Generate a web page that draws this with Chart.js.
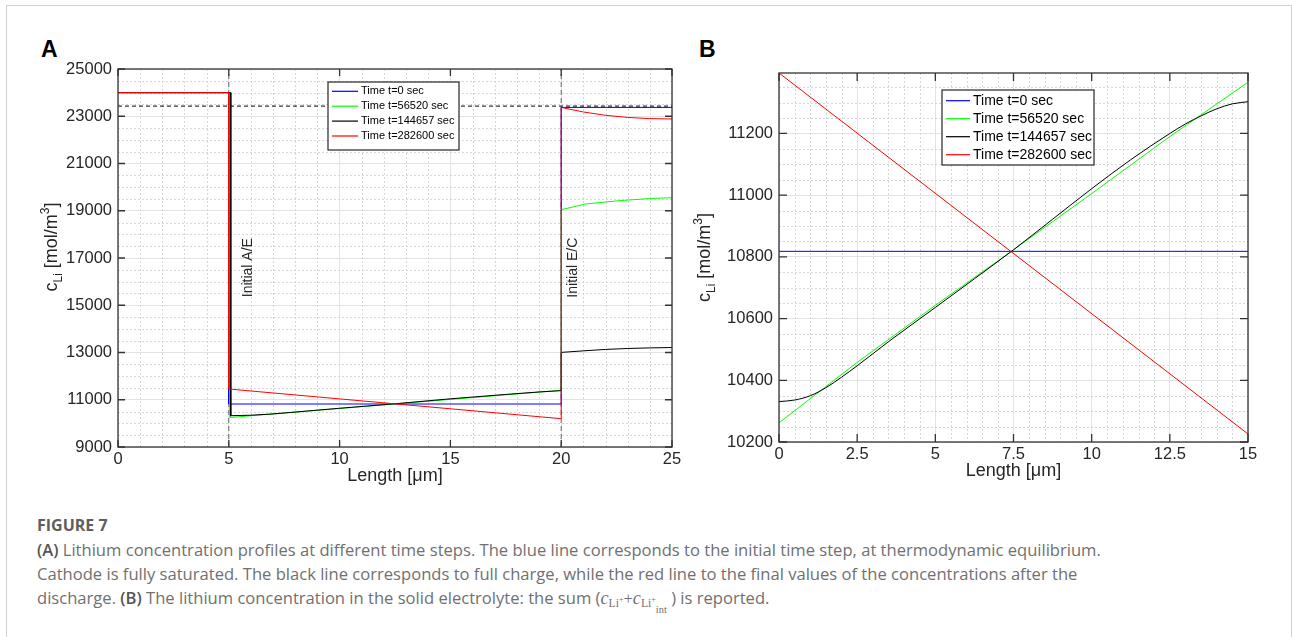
<!DOCTYPE html>
<html><head><meta charset="utf-8">
<script src="https://cdn.jsdelivr.net/npm/chart.js@4.4.1/dist/chart.umd.min.js"></script>
<style>
html,body{margin:0;padding:0;background:#fff;}
body{width:1292px;height:637px;position:relative;overflow:hidden;}
#frame{position:absolute;left:6px;top:5px;width:1284px;height:700px;border:1px solid #d0d0d0;}
.panel{position:absolute;font-family:"Liberation Sans",Arial,sans-serif;font-weight:bold;font-size:23px;color:#000;line-height:1;}
canvas{position:absolute;top:0;}
#cA{left:0;}
#cB{left:690px;}
#cap{position:absolute;left:37px;top:512px;font-family:"Open Sans",Lato,sans-serif;color:#707070;font-size:16px;}
#cap .ln{white-space:nowrap;height:24px;line-height:24px;}
#cap .fig{font-weight:bold;color:#5e5e5e;font-size:16px;height:26px;line-height:26px;}
#cap b{color:#555;font-weight:600;}
.m{font-family:"Liberation Serif","DejaVu Serif",serif;}
.m i{font-family:"Liberation Serif",serif;font-size:1.1em;}
.m sub{font-size:0.7em;vertical-align:-3px;}
.m sup{font-size:0.7em;vertical-align:5px;}
.m sub sub{font-size:0.9em;vertical-align:-6px;}
</style>
</head>
<body>
<div id="frame"></div>
<div class="panel" style="left:41px;top:38px;">A</div>
<div class="panel" style="left:699px;top:38px;">B</div>
<canvas id="cA" width="690" height="500"></canvas>
<canvas id="cB" width="602" height="500"></canvas>
<div id="cap">
<div class="ln fig">FIGURE 7</div>
<div class="ln" id="line1"><b>(A)</b> Lithium concentration profiles at different time steps. The blue line corresponds to the initial time step, at thermodynamic equilibrium.</div>
<div class="ln">Cathode is fully saturated. The black line corresponds to full charge, while the red line to the final values of the concentrations after the</div>
<div class="ln">discharge. <b>(B)</b> The lithium concentration in the solid electrolyte: the sum (<span class="m"><i>c</i><sub>Li<sup>+</sup></sub>+<i>c</i><sub>Li<sup>+</sup><sub>int</sub></sub></span> ) is reported.</div>
</div>
<script>
// ---------- data ----------
const seriesLabels = ['Time t=0 sec', 'Time t=56520 sec', 'Time t=144657 sec', 'Time t=282600 sec'];

// Panel A: position across the cell [um] vs concentration [mol/m^3]
const aBlueX  = [0, 5, 5, 20, 20, 25];
const aBlueY  = [24000, 24000, 10820, 10820, 23375, 23375];
const aGreenX = [0, 5.06, 5.06, 20, 20, 21.1, 22.6, 24.1, 25];
const aGreenY = [24000, 24000, 10250, 11400, 19044, 19286, 19425, 19523, 19552];
const aBlackX = [0, 5.09, 5.09, 6, 7, 8.5, 10, 12.5, 15, 17.5, 19, 20, 20, 21, 22, 23, 24, 25];
const aBlackY = [24000, 24000, 10325, 10345, 10400, 10520, 10640, 10830, 11040, 11225, 11330, 11385, 13004, 13070, 13130, 13170, 13195, 13210];
const aRedX   = [0, 5, 5, 20, 20, 21, 22, 23, 24, 25];
const aRedY   = [24000, 24000, 11455, 10198, 23375, 23180, 23040, 22950, 22900, 22885];
const aRefX   = [0, 25];
const aRefY   = [23430, 23430];
const interfaceX = [5, 20];
const interfaceLabels = ['Initial A/E', 'Initial E/C'];
const interfaceLabelX = [5.88, 20.52];
const interfaceLabelY = [16590, 16590];
const aXTicks = [0, 5, 10, 15, 20, 25];
const aYTicks = [9000, 11000, 13000, 15000, 17000, 19000, 21000, 23000, 25000];

// Panel B: solid electrolyte position [um] vs concentration [mol/m^3]
const bBlueX  = [0, 15];
const bBlueY  = [10818, 10818];
const bGreenX = [0, 2.5, 5, 7.5, 10, 12.5, 15];
const bGreenY = [10262, 10458, 10643, 10823, 11005, 11190, 11366];
const bBlackX = [0, 0.5, 1, 1.5, 2, 2.5, 3.5, 5, 6.25, 7.5, 8.75, 10, 11.25, 12.5, 13, 13.5, 14, 14.5, 15];
const bBlackY = [10331, 10336, 10350, 10376, 10410, 10447, 10525, 10636, 10729, 10823, 10922, 11021, 11115, 11200, 11231, 11257, 11280, 11296, 11303];
const bRedX   = [0, 15];
const bRedY   = [11396, 10226];
const bXTicks = [0, 2.5, 5, 7.5, 10, 12.5, 15];
const bYTicks = [10200, 10400, 10600, 10800, 11000, 11200];

// ---------- helpers ----------
const pts = (xs, ys) => xs.map((x, i) => ({x, y: ys[i]}));
Chart.defaults.font.family = "'Liberation Sans', Arial, sans-serif";
Chart.defaults.color = '#262626';
const FONT = "'Liberation Sans', Arial, sans-serif";

function drawRich(ctx, parts, cx, cy, rotate) {
  ctx.save();
  ctx.translate(cx, cy);
  if (rotate) ctx.rotate(-Math.PI / 2);
  let total = 0;
  parts.forEach(p => { ctx.font = p.size + 'px ' + FONT; p.w = ctx.measureText(p.t).width; total += p.w; });
  let x = -total / 2;
  ctx.textBaseline = 'alphabetic';
  ctx.textAlign = 'left';
  ctx.fillStyle = '#262626';
  parts.forEach(p => { ctx.font = p.size + 'px ' + FONT; ctx.fillText(p.t, x, p.dy); x += p.w; });
  ctx.restore();
}

const matlabFrame = {
  id: 'matlabFrame',
  beforeDatasetsDraw(chart, args, o) {
    const {ctx, chartArea: a, scales: {x, y}} = chart;
    ctx.save();
    ctx.strokeStyle = '#d6d6d6';
    ctx.lineWidth = 1;
    ctx.setLineDash([2, 2]);
    ctx.beginPath();
    const isMajor = (scale, v) => scale.ticks.some(t => Math.abs(t.value - v) < 1e-6);
    const nx = Math.round((x.max - x.min) / o.xMinor);
    for (let i = 1; i < nx; i++) {
      const v = x.min + i * o.xMinor;
      if (isMajor(x, v)) continue;
      const px = Math.round(x.getPixelForValue(v)) + 0.5;
      ctx.moveTo(px, a.top); ctx.lineTo(px, a.bottom);
    }
    const ny = Math.floor((y.max - y.min) / o.yMinor + 1e-9);
    for (let i = 1; i <= ny; i++) {
      const v = y.min + i * o.yMinor;
      if (v >= y.max - 1e-6 || isMajor(y, v)) continue;
      const py = Math.round(y.getPixelForValue(v)) + 0.5;
      ctx.moveTo(a.left, py); ctx.lineTo(a.right, py);
    }
    ctx.stroke();
    ctx.restore();
  },
  afterDatasetsDraw(chart, args, o) {
    const {ctx, chartArea: a, scales: {x, y}} = chart;
    ctx.save();
    ctx.strokeStyle = '#333';
    ctx.lineWidth = 1.3;
    ctx.setLineDash([]);
    ctx.strokeRect(a.left, a.top, a.right - a.left, a.bottom - a.top);
    ctx.beginPath();
    const L = o.tickLen;
    x.ticks.forEach(t => {
      const px = x.getPixelForValue(t.value);
      ctx.moveTo(px, a.bottom); ctx.lineTo(px, a.bottom - L);
      ctx.moveTo(px, a.top); ctx.lineTo(px, a.top + L);
    });
    y.ticks.forEach(t => {
      const py = y.getPixelForValue(t.value);
      ctx.moveTo(a.left, py); ctx.lineTo(a.left + L, py);
      ctx.moveTo(a.right, py); ctx.lineTo(a.right - L, py);
    });
    ctx.stroke();
    (o.notes || []).forEach(n => {
      ctx.save();
      ctx.translate(x.getPixelForValue(n.x), y.getPixelForValue(n.y));
      ctx.rotate(-Math.PI / 2);
      ctx.font = '14px ' + FONT;
      ctx.fillStyle = '#262626';
      ctx.textAlign = 'center';
      ctx.textBaseline = 'middle';
      ctx.fillText(n.text, 0, 0);
      ctx.restore();
    });
    drawRich(ctx, [{t: 'Length [', size: 18, dy: 0}, {t: '\u03bc', size: 18, dy: 0}, {t: 'm]', size: 18, dy: 0}],
      (a.left + a.right) / 2, a.bottom + o.xTitleDy, false);
    drawRich(ctx, [{t: 'c', size: 18, dy: 0}, {t: 'Li', size: 12, dy: 5}, {t: ' [mol/m', size: 18, dy: 0},
      {t: '3', size: 12, dy: -8}, {t: ']', size: 18, dy: 0}],
      a.left - o.yTitleDx, (a.top + a.bottom) / 2 + o.yTitleDy, true);
    const g = o.legend;
    const lx = a.left + g.left, ly = a.top + g.top;
    ctx.fillStyle = '#fff';
    ctx.fillRect(lx, ly, g.width, g.height);
    ctx.strokeStyle = '#262626';
    ctx.lineWidth = 1.2;
    ctx.strokeRect(lx, ly, g.width, g.height);
    ctx.font = g.font + 'px ' + FONT;
    ctx.textBaseline = 'middle';
    ctx.textAlign = 'left';
    let row = 0;
    chart.data.datasets.forEach(ds => {
      if (!ds.label) return;
      const ry = ly + g.first + row * g.step;
      ctx.strokeStyle = ds.borderColor;
      ctx.lineWidth = 1.2;
      ctx.beginPath();
      ctx.moveTo(lx + g.line0, ry); ctx.lineTo(lx + g.line1, ry);
      ctx.stroke();
      ctx.fillStyle = '#000';
      ctx.fillText(ds.label, lx + g.text, ry);
      row++;
    });
    ctx.restore();
  }
};

function series(label, xs, ys, color, order, extra) {
  return Object.assign({label, data: pts(xs, ys), borderColor: color, backgroundColor: color,
    borderWidth: 1, pointRadius: 0, fill: false, order, tension: 0}, extra || {});
}

function baseScales(xmin, xmax, xstep, ymin, ymax, ystep, yWidth, xTickValues, yTickValues) {
  return {
    x: {type: 'linear', min: xmin, max: xmax,
      ticks: {stepSize: xstep, includeBounds: false, autoSkip: false, maxRotation: 0, padding: 3,
        font: {size: 16.5}, color: '#262626', callback: v => String(v)},
      afterBuildTicks: s => { s.ticks = xTickValues.map(v => ({value: v})); },
      grid: {color: '#e3e3e3', drawTicks: false, lineWidth: 1}, border: {display: false},
      afterFit: s => { s.height = 30; }},
    y: {type: 'linear', min: ymin, max: ymax,
      ticks: {stepSize: ystep, includeBounds: false, autoSkip: false, padding: 6,
        font: {size: 16.5}, color: '#262626', callback: v => String(v)},
      afterBuildTicks: s => { s.ticks = yTickValues.map(v => ({value: v})); },
      grid: {color: '#e3e3e3', drawTicks: false, lineWidth: 1}, border: {display: false},
      afterFit: s => { s.width = yWidth; }}
  };
}

new Chart(document.getElementById('cA'), {
  type: 'line',
  data: {datasets: [
    series(seriesLabels[0], aBlueX, aBlueY, '#0000ff', 4),
    series(seriesLabels[1], aGreenX, aGreenY, '#00ff00', 3),
    series(seriesLabels[2], aBlackX, aBlackY, '#000000', 2),
    series(seriesLabels[3], aRedX, aRedY, '#ff0000', 1),
    series('', aRefX, aRefY, '#000000', 6, {borderDash: [4, 3]}),
    series('', [interfaceX[0], interfaceX[0]], [aYTicks[0], aYTicks[aYTicks.length - 1]], '#666666', 7, {borderDash: [5, 3]}),
    series('', [interfaceX[1], interfaceX[1]], [aYTicks[0], aYTicks[aYTicks.length - 1]], '#666666', 7, {borderDash: [5, 3]})
  ]},
  options: {
    animation: false, responsive: false, devicePixelRatio: 1,
    layout: {padding: {left: 0, top: 69, right: 18, bottom: 23}},
    plugins: {legend: {display: false}, tooltip: {enabled: false},
      matlabFrame: {xMinor: 1, yMinor: 500, tickLen: 7, xTitleDy: 34, yTitleDx: 61, yTitleDy: -11,
        notes: interfaceLabels.map((t, i) => ({text: t, x: interfaceLabelX[i], y: interfaceLabelY[i]})),
        legend: {left: 210, top: 13, width: 131, height: 68, first: 9.3, step: 14.9, line0: 4, line1: 30, text: 33, font: 11}}},
    scales: baseScales(0, 25, 5, 9000, 25000, 2000, 118, aXTicks, aYTicks)
  },
  plugins: [matlabFrame]
});

new Chart(document.getElementById('cB'), {
  type: 'line',
  data: {datasets: [
    series(seriesLabels[0], bBlueX, bBlueY, '#0000ff', 4),
    series(seriesLabels[1], bGreenX, bGreenY, '#00ff00', 3),
    series(seriesLabels[2], bBlackX, bBlackY, '#000000', 2, {cubicInterpolationMode: 'monotone'}),
    series(seriesLabels[3], bRedX, bRedY, '#ff0000', 1)
  ]},
  options: {
    animation: false, responsive: false, devicePixelRatio: 1,
    layout: {padding: {left: 0, top: 73, right: 44, bottom: 28}},
    plugins: {legend: {display: false}, tooltip: {enabled: false},
      matlabFrame: {xMinor: 0.5, yMinor: 50, tickLen: 8, xTitleDy: 34, yTitleDx: 69.5, yTitleDy: 0,
        legend: {left: 163, top: 17, width: 152, height: 75, first: 10.7, step: 18, line0: 4, line1: 28, text: 31, font: 14}}},
    scales: baseScales(0, 15, 2.5, 10200, 11396, 200, 89, bXTicks, bYTicks)
  },
  plugins: [matlabFrame]
});

// fit caption size to the reference line length (first text line ~1064 px wide)
(function fitCaption() {
  const cap = document.getElementById('cap');
  const l1 = document.getElementById('line1');
  const range = document.createRange();
  range.selectNodeContents(l1);
  const tw = range.getBoundingClientRect().width;
  if (tw > 0) cap.style.fontSize = (16 * 1064 / tw).toFixed(2) + 'px';
})();
</script>
</body></html>
